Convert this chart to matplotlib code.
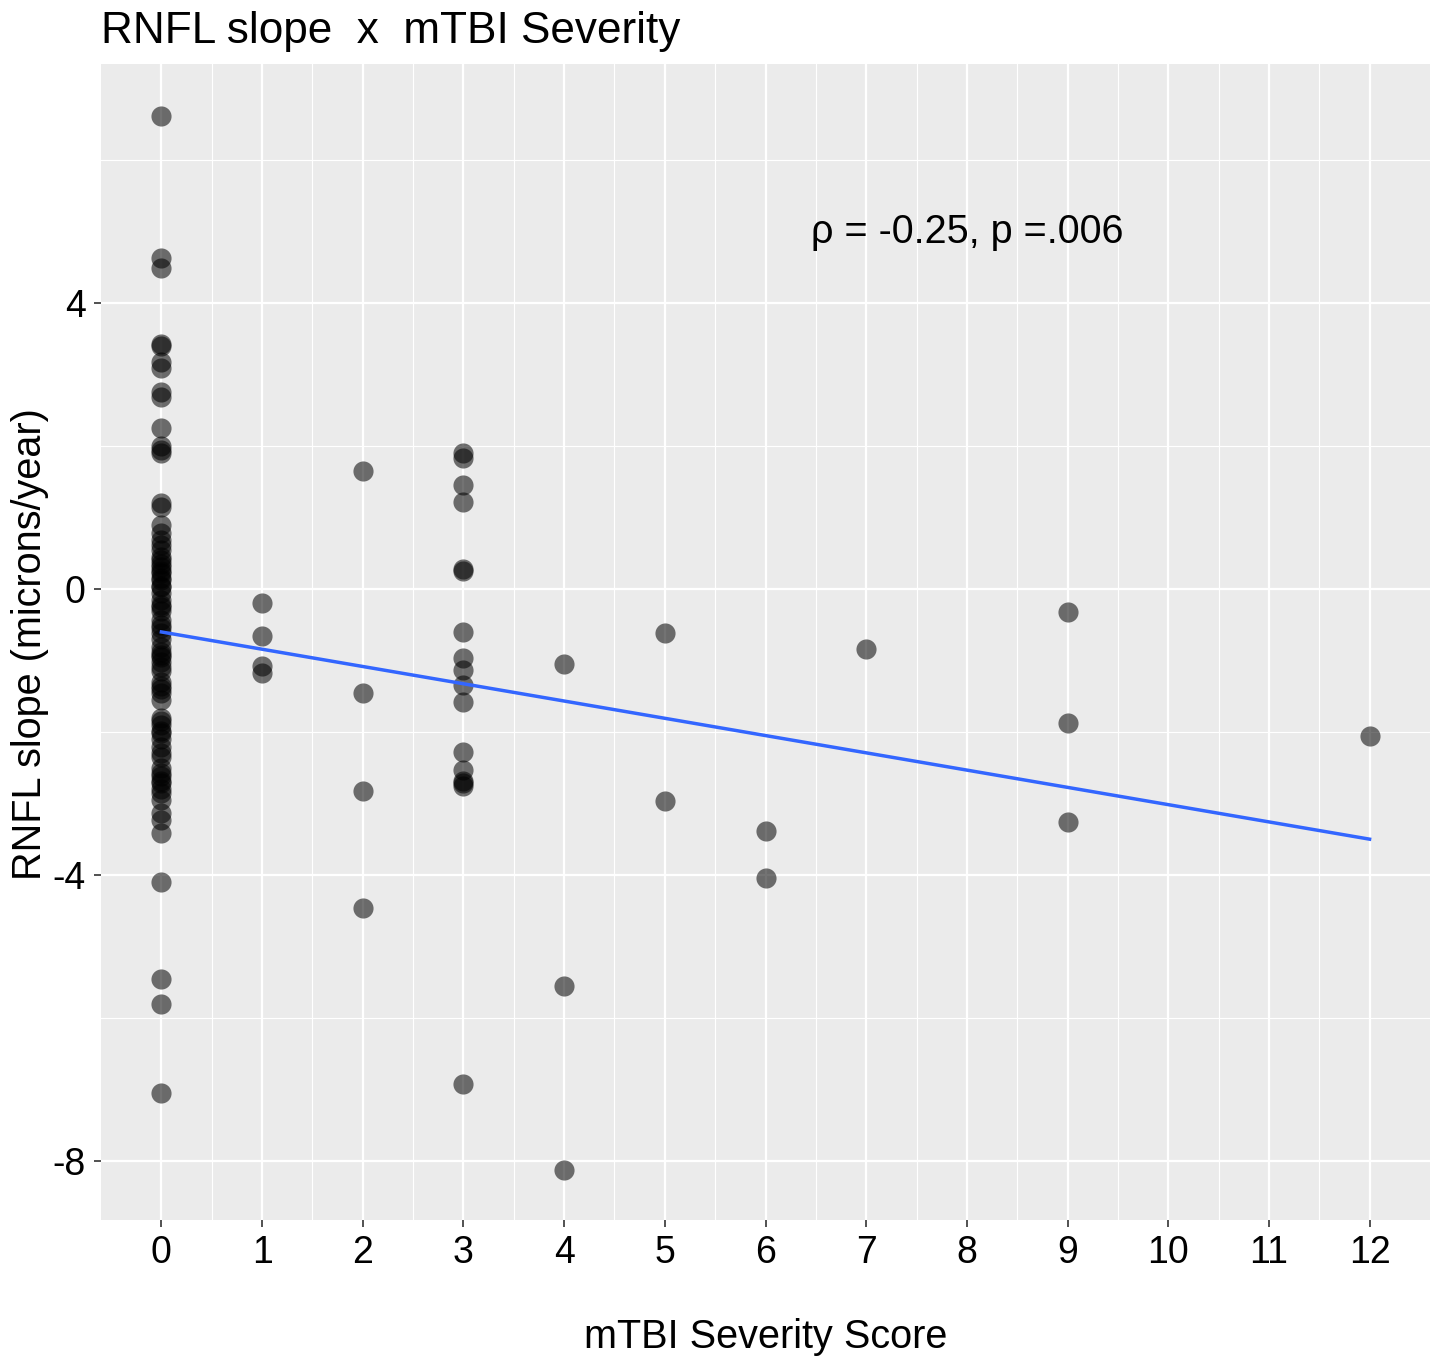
import numpy as np
import matplotlib.pyplot as plt

plt.rcParams['font.family'] = ['Liberation Sans', 'DejaVu Sans']
plt.rcParams['axes.unicode_minus'] = False

# severity score -> RNFL slope values
sev0 = [6.62, 4.63, 4.49, 3.43, 3.40, 3.18, 3.09, 2.76, 2.69, 2.25, 2.00, 1.95, 1.90,
        1.20, 1.15, 0.90, 0.78, 0.69, 0.62, 0.55, 0.45, 0.41, 0.35, 0.31, 0.25, 0.22,
        0.15, 0.13, 0.05, 0.03, -0.05, -0.15, -0.22, -0.25, -0.30, -0.43, -0.50, -0.55,
        -0.62, -0.70, -0.81, -0.88, -0.92, -0.95, -1.02, -1.09, -1.15, -1.30, -1.35,
        -1.40, -1.46, -1.55, -1.80, -1.85, -1.90, -1.98, -2.02, -2.10, -2.21, -2.30,
        -2.35, -2.50, -2.58, -2.62, -2.68, -2.72, -2.80, -2.86, -2.95, -3.14, -3.23,
        -3.42, -4.10, -5.46, -5.80, -7.05]
sev1 = [-0.20, -0.65, -1.07, -1.17]
sev2 = [1.65, -1.45, -2.83, -4.47]
sev3 = [1.90, 1.83, 1.46, 1.22, 0.28, 0.25, -0.60, -0.97, -1.13, -1.34, -1.58,
        -2.28, -2.53, -2.68, -2.72, -2.76, -6.93]
sev4 = [-1.05, -5.55, -8.13]
sev5 = [-0.62, -2.96]
sev6 = [-3.38, -4.04]
sev7 = [-0.84]
sev9 = [-0.32, -1.88, -3.26]
sev12 = [-2.05]

groups = {0: sev0, 1: sev1, 2: sev2, 3: sev3, 4: sev4, 5: sev5, 6: sev6,
          7: sev7, 9: sev9, 12: sev12}
x = np.concatenate([[k] * len(v) for k, v in groups.items()]).astype(float)
y = np.concatenate([v for v in groups.values()])

fig = plt.figure(figsize=(14.38, 13.59), dpi=100)
ax = fig.add_axes([101 / 1438, 1 - 1220 / 1359, (1430 - 101) / 1438, (1220 - 64) / 1359])
ax.set_facecolor('#ebebeb')

ax.set_xlim(-0.6, 12.6)
ax.set_ylim(-8.83, 7.35)
ax.set_xticks(range(0, 13))
ax.set_xticks(np.arange(0.5, 12.5, 1), minor=True)
ax.set_yticks([-8, -4, 0, 4])
ax.set_yticks([-6, -2, 2, 6], minor=True)
ax.grid(True, which='major', color='white', lw=1.6)
ax.grid(True, which='minor', color='white', lw=0.8)
ax.set_axisbelow(True)
for s in ax.spines.values():
    s.set_visible(False)
ax.tick_params(which='major', length=5, width=1.2, color='#333333', labelsize=27, pad=6)
ax.tick_params(which='minor', length=0)

ax.scatter(x, y, s=210, color='black', alpha=0.55, lw=0, zorder=3)

b, a = np.polyfit(x, y, 1)
xs = np.array([0, 12])
ax.plot(xs, a + b * xs, color='#3366FF', lw=2.5, zorder=4)

ax.text(8.0, 5.0, 'ρ = -0.25, p =.006', fontsize=28.5, ha='center', va='center')

ax.set_xlabel('mTBI Severity Score', fontsize=28.5, labelpad=34)
fig.text(30 / 1438, 1 - 644 / 1359, 'RNFL slope (microns/year)', fontsize=28.5,
         rotation=90, ha='center', va='center')
fig.text(101 / 1438, 1 - 31 / 1359, 'RNFL slope  x  mTBI Severity', fontsize=31.8,
         ha='left', va='center')

fig.savefig('out.png', dpi=100)
